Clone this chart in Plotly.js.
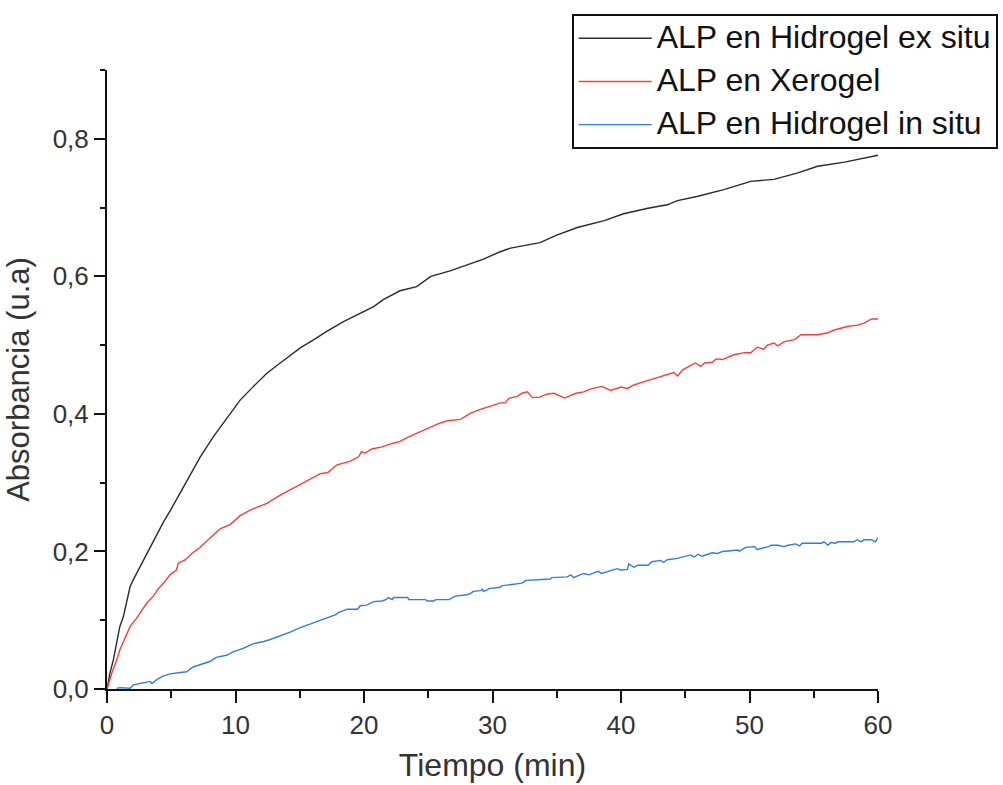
<!DOCTYPE html>
<html>
<head>
<meta charset="utf-8">
<script src="https://cdn.plot.ly/plotly-3.0.1.min.js"></script>
<style>html,body{margin:0;padding:0;background:#fff;}#chart{width:1003px;height:785px;}</style>
</head>
<body>
<div id="chart"></div>
<script>
const seriesNames = ["ALP en Hidrogel ex situ", "ALP en Xerogel", "ALP en Hidrogel in situ"];

const blackT = [0, 0.23, 0.49, 0.75, 1.0, 1.27, 1.53, 1.8, 2.05, 2.3, 2.7, 3.1, 3.6, 4.0, 4.4, 5.0, 5.7, 6.4, 7.25, 8.28, 9.58, 10.36, 11.4, 12.44, 13.48, 15.04, 16.1, 17.1, 18.4, 19.7, 20.75, 21.5, 22.8, 24.1, 25.2, 26.7, 28.0, 29.3, 30.5, 31.4, 33.7, 35.0, 36.6, 38.7, 40.2, 42.1, 43.6, 44.4, 45.9, 48.0, 50.1, 51.9, 53.7, 55.3, 57.4, 58.9, 60];
const blackV = [0, 0.023, 0.042, 0.066, 0.091, 0.105, 0.129, 0.149, 0.159, 0.168, 0.183, 0.197, 0.214, 0.229, 0.243, 0.262, 0.285, 0.31, 0.337, 0.367, 0.401, 0.42, 0.44, 0.459, 0.474, 0.496, 0.508, 0.52, 0.534, 0.546, 0.556, 0.566, 0.579, 0.585, 0.6, 0.608, 0.617, 0.625, 0.635, 0.641, 0.649, 0.66, 0.671, 0.681, 0.691, 0.699, 0.704, 0.71, 0.716, 0.726, 0.738, 0.741, 0.75, 0.76, 0.766, 0.772, 0.776];

const redT = [0, 0.37, 0.75, 1.0, 1.4, 1.8, 2.3, 2.7, 3.1, 3.6, 4.0, 4.4, 4.9, 5.4, 5.55, 6.1, 6.6, 7.25, 8.0, 8.8, 9.58, 10.36, 11.14, 12.44, 13.48, 14.26, 15.04, 15.8, 16.6, 17.2, 17.9, 18.9, 19.6, 19.8, 20.1, 20.6, 21.4, 22.2, 22.8, 23.4, 24.1, 24.9, 25.7, 26.5, 27.5, 28.3, 29.1, 29.8, 30.6, 31.0, 31.3, 31.9, 32.3, 32.7, 33.1, 33.6, 34.3, 34.8, 35.6, 36.5, 37.1, 37.6, 38.5, 39.2, 40.0, 40.5, 41.0, 41.5, 42.2, 42.6, 43.4, 44.1, 44.4, 44.8, 45.3, 45.8, 46.2, 46.5, 47.1, 47.4, 47.9, 48.3, 48.8, 49.6, 50.1, 50.6, 51.1, 51.4, 51.9, 52.2, 52.7, 53.5, 54.0, 55.3, 56.1, 56.6, 57.6, 58.4, 58.9, 59.5, 60];
const redV = [0, 0.023, 0.042, 0.057, 0.074, 0.091, 0.103, 0.115, 0.125, 0.135, 0.146, 0.154, 0.166, 0.173, 0.183, 0.188, 0.197, 0.206, 0.219, 0.233, 0.239, 0.252, 0.26, 0.27, 0.282, 0.29, 0.298, 0.305, 0.313, 0.315, 0.326, 0.331, 0.338, 0.345, 0.343, 0.349, 0.352, 0.357, 0.36, 0.366, 0.372, 0.379, 0.385, 0.39, 0.392, 0.401, 0.407, 0.411, 0.416, 0.416, 0.423, 0.425, 0.43, 0.432, 0.424, 0.424, 0.429, 0.43, 0.423, 0.43, 0.432, 0.436, 0.44, 0.434, 0.439, 0.437, 0.442, 0.445, 0.449, 0.452, 0.457, 0.46, 0.455, 0.464, 0.469, 0.474, 0.469, 0.474, 0.475, 0.48, 0.479, 0.482, 0.486, 0.489, 0.489, 0.497, 0.494, 0.5, 0.503, 0.499, 0.505, 0.508, 0.515, 0.515, 0.518, 0.522, 0.527, 0.529, 0.532, 0.538, 0.538];

const blueT = [0.75, 1.0, 1.8, 2.05, 2.8, 3.35, 3.5, 3.9, 4.4, 4.9, 5.7, 6.2, 6.7, 7.25, 8.0, 8.5, 9.3, 9.8, 10.6, 11.4, 12.2, 12.7, 13.5, 14.3, 15.0, 16.2, 17.4, 17.8, 18.0, 18.4, 18.7, 19.5, 19.7, 20.2, 20.5, 20.75, 21.4, 21.7, 21.9, 22.2, 22.3, 23.4, 23.5, 24.8, 24.9, 25.4, 25.6, 26.6, 26.9, 27.1, 28.0, 28.3, 28.5, 29.1, 29.2, 29.3, 29.6, 29.7, 30.6, 30.7, 31.1, 32.3, 32.6, 34.5, 34.6, 35.8, 36.1, 36.3, 37.1, 37.5, 38.2, 38.5, 39.2, 39.7, 40.0, 40.5, 40.6, 41.0, 41.3, 42.1, 42.4, 43.1, 43.3, 43.6, 44.4, 44.9, 45.4, 45.7, 46.0, 46.3, 46.7, 47.1, 47.5, 47.9, 48.5, 49.1, 49.2, 49.7, 50.4, 50.6, 51.5, 51.7, 52.2, 52.7, 53.0, 53.6, 53.9, 54.1, 55.6, 55.8, 56.1, 56.3, 56.7, 56.9, 58.1, 58.4, 58.7, 58.9, 59.5, 59.8, 60.0];
const blueV = [0.001, 0.002, 0.001, 0.006, 0.009, 0.011, 0.008, 0.014, 0.019, 0.022, 0.024, 0.025, 0.032, 0.035, 0.040, 0.046, 0.049, 0.054, 0.059, 0.066, 0.069, 0.072, 0.077, 0.083, 0.089, 0.097, 0.106, 0.108, 0.111, 0.114, 0.116, 0.116, 0.121, 0.122, 0.125, 0.127, 0.128, 0.130, 0.133, 0.130, 0.133, 0.133, 0.130, 0.130, 0.128, 0.128, 0.130, 0.130, 0.133, 0.135, 0.137, 0.139, 0.142, 0.143, 0.145, 0.142, 0.144, 0.146, 0.148, 0.150, 0.151, 0.154, 0.158, 0.160, 0.162, 0.163, 0.166, 0.162, 0.168, 0.166, 0.171, 0.168, 0.172, 0.175, 0.173, 0.174, 0.182, 0.177, 0.180, 0.180, 0.185, 0.187, 0.184, 0.188, 0.190, 0.192, 0.195, 0.192, 0.196, 0.193, 0.196, 0.198, 0.197, 0.200, 0.201, 0.202, 0.200, 0.206, 0.207, 0.203, 0.207, 0.209, 0.209, 0.207, 0.209, 0.211, 0.208, 0.212, 0.212, 0.214, 0.209, 0.213, 0.212, 0.214, 0.214, 0.217, 0.214, 0.217, 0.217, 0.214, 0.220];

const xTitle = "Tiempo (min)";
const yTitle = "Absorbancia (u.a)";

const FONT = "Liberation Sans, Arial, sans-serif";
const colors = ["#2a2a2a", "#ff3b3b", "#2f7ce6"];
const legendLabel = s => '<span style="font-size:32px">' + s + '</span>';

const traces = [
  {x: blackT, y: blackV, name: legendLabel(seriesNames[0]), legendgroup: "g1", mode: "lines", line: {color: colors[0], width: 1.4}},
  {x: redT, y: redV, name: legendLabel(seriesNames[1]), legendgroup: "g2", mode: "lines", line: {color: colors[1], width: 1.4}},
  {x: blueT, y: blueV, name: legendLabel(seriesNames[2]), legendgroup: "g3", mode: "lines", line: {color: colors[2], width: 1.4}}
];

const axisCommon = {
  showline: true, linecolor: "#111", linewidth: 2,
  showgrid: false, zeroline: false,
  ticks: "outside", tickcolor: "#111", tickwidth: 2,
  tickfont: {family: FONT, size: 26, color: "#333"},
  mirror: false, automargin: false
};

const layout = {
  width: 1003, height: 785,
  margin: {l: 107, r: 125, t: 70, b: 96, pad: 0, autoexpand: false},
  paper_bgcolor: "#fff", plot_bgcolor: "#fff",
  separators: ",.",
  font: {family: FONT, color: "#333"},
  showlegend: true,
  legend: {
    xref: "container", yref: "container",
    x: 0.570, xanchor: "left", y: 0.982, yanchor: "top",
    bgcolor: "#fff", bordercolor: "#111", borderwidth: 2,
    font: {family: FONT, size: 24, color: "#111"},
    itemwidth: 73, tracegroupgap: 9, traceorder: "grouped"
  },
  xaxis: Object.assign({}, axisCommon, {
    range: [0, 60], dtick: 10, tick0: 0, ticklen: 12,
    minor: {dtick: 5, ticklen: 7, tickwidth: 2, tickcolor: "#111", ticks: "outside"},
    title: {text: xTitle, font: {family: FONT, size: 32, color: "#333"}, standoff: 14}
  }),
  yaxis: Object.assign({}, axisCommon, {
    range: [0, 0.9], dtick: 0.2, tick0: 0, ticklen: 11, tickformat: ".1f",
    minor: {dtick: 0.1, ticklen: 5, tickwidth: 2, tickcolor: "#111", ticks: "outside"},
    title: {text: yTitle, font: {family: FONT, size: 31, color: "#333"}, standoff: 14}
  })
};

Plotly.newPlot("chart", traces, layout, {staticPlot: true, displayModeBar: false});
</script>
</body>
</html>
